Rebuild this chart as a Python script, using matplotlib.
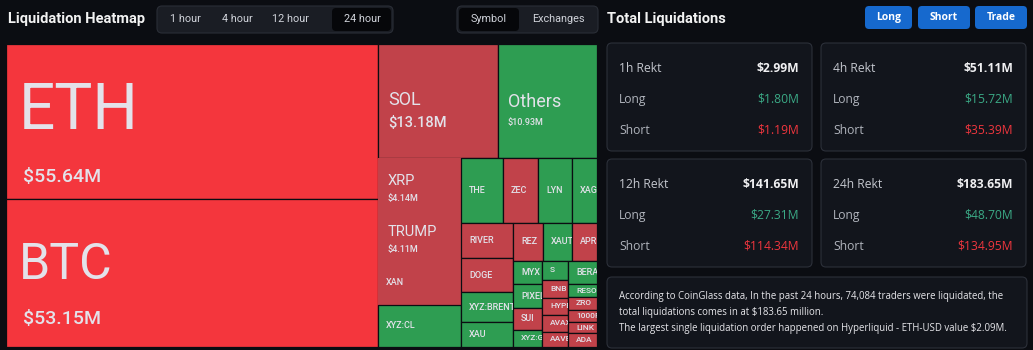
import matplotlib
matplotlib.use('Agg')
import matplotlib.pyplot as plt
from matplotlib.patches import Rectangle, FancyBboxPatch

# ---------------- data ----------------
symbols = ['ETH', 'BTC', 'SOL', 'Others', 'XRP', 'TRUMP', 'XAN', 'XYZ:CL',
           'THE', 'ZEC', 'LYN', 'XAG', 'RIVER', 'DOGE', 'XYZ:BRENT', 'XAU',
           'REZ', 'XAUT', 'APR', 'MYX', 'PIXEL', 'SUI', 'XYZ:GOLD',
           'S', 'BNB', 'HYPE', 'AVAX', 'AAVE',
           'BERA', 'RESOLV', 'ZRO', '1000PEPE', 'LINK', 'ADA']
values = [55.64, 53.15, 13.18, 10.93, 4.14, 4.11, 3.52, 3.37,
          2.62, 2.18, 2.12, 1.56, 1.80, 1.70, 1.50, 1.25,
          1.12, 1.08, 0.94, 0.65, 0.65, 0.62, 0.48,
          0.46, 0.46, 0.43, 0.43, 0.38,
          0.65, 0.34, 0.37, 0.34, 0.31, 0.39]
# 'S' = short-dominant (red), 'L' = long-dominant (green)
sides = ['S', 'S', 'S', 'L', 'S', 'S', 'S', 'L',
         'L', 'S', 'L', 'L', 'S', 'S', 'L', 'L',
         'S', 'L', 'S', 'L', 'L', 'S', 'L',
         'L', 'S', 'S', 'S', 'S',
         'L', 'L', 'S', 'S', 'S', 'S']
value_labels = {'ETH': '$55.64M', 'BTC': '$53.15M', 'SOL': '$13.18M',
                'Others': '$10.93M', 'XRP': '$4.14M', 'TRUMP': '$4.11M'}

periods = ['1h Rekt', '4h Rekt', '12h Rekt', '24h Rekt']
total_rekt = [2.99, 51.11, 141.65, 183.65]
long_rekt = [1.80, 15.72, 27.31, 48.70]
short_rekt = [1.19, 35.39, 114.34, 134.95]

time_tabs = ['1 hour', '4 hour', '12 hour', '24 hour']
view_tabs = ['Symbol', 'Exchanges']
buttons = ['Long', 'Short', 'Trade']
summary = ["According to CoinGlass data, In the past 24 hours, 74,084 traders were liquidated, the",
           "total liquidations comes in at $183.65 million.",
           "The largest single liquidation order happened on Hyperliquid - ETH-USD value $2.09M."]

# ---------------- style ----------------
BG = '#0B0D12'
CARD = '#12151C'
CARD_EDGE = '#2C3039'
RED_BIG = '#F4363D'
RED = '#C1424A'
GREEN = '#2E9D52'
TXT = '#E3E2EA'
VAL_GREEN = '#3BAA86'
VAL_RED = '#F0363E'

W, H = 1033, 350
fig = plt.figure(figsize=(W / 100, H / 100), dpi=100)
fig.patch.set_facecolor(BG)
ax = fig.add_axes([0, 0, 1, 1])
ax.set_xlim(0, W)
ax.set_ylim(H, 0)
ax.axis('off')
ax.set_facecolor(BG)

FONT = 'Roboto'
UI = 'Open Sans'

# ---------------- treemap ----------------
val = dict(zip(symbols, values))
side = dict(zip(symbols, sides))

tree = ('h', [('v', ['ETH', 'BTC']),
              ('v', [('h', ['SOL', 'Others']),
                     ('h', [('v', ['XRP', 'TRUMP', 'XAN', 'XYZ:CL']),
                            ('v', [('h', ['THE', 'ZEC', 'LYN', 'XAG']),
                                   ('h', [('v', ['RIVER', 'DOGE', 'XYZ:BRENT', 'XAU']),
                                          ('v', [('h', ['REZ', 'XAUT', 'APR']),
                                                 ('h', [('v', ['MYX', 'PIXEL', 'SUI', 'XYZ:GOLD']),
                                                        ('v', ['S', 'BNB', 'HYPE', 'AVAX', 'AAVE']),
                                                        ('v', ['BERA', 'RESOLV', 'ZRO', '1000PEPE', 'LINK', 'ADA'])])])])])])])])


def node_total(node):
    if isinstance(node, str):
        return val[node]
    return sum(node_total(c) for c in node[1])


def layout(node, x, y, w, h, out):
    if isinstance(node, str):
        out.append((node, x, y, w, h))
        return
    orient, children = node
    tot = node_total(node)
    pos = 0.0
    for c in children:
        frac = node_total(c) / tot
        if orient == 'h':
            layout(c, x + pos * w, y, frac * w, h, out)
        else:
            layout(c, x, y + pos * h, w, frac * h, out)
        pos += frac


cells = []
layout(tree, 6, 44, 591, 303, cells)

big = {'ETH': (46, 14), 'BTC': (36, 14), 'SOL': (13, 10.5),
       'Others': (13, 6.5), 'XRP': (10.5, 6.5), 'TRUMP': (10.5, 6.5)}
no_edge = {'XRP', 'TRUMP', 'XAN'}

for name, x, y, w, h in cells:
    if side[name] == 'S':
        col = RED_BIG if name in ('ETH', 'BTC') else RED
    else:
        col = GREEN
    rect = Rectangle((x, y), w, h, facecolor=col,
                     edgecolor='none' if name in no_edge else BG, lw=0.9)
    ax.add_patch(rect)
    if name in big:
        npt, vpt = big[name]
        npx = npt / 0.72
        vpx = vpt / 0.72
        gap = 0.62 * npx
        block = 0.72 * npx + gap + 0.72 * vpx
        cy = y + h / 2 + 0.07 * h
        base = cy - block / 2 + 0.72 * npx
        nx = x + (13 if npt > 30 else 10)
        vx = x + (17 if npt > 30 else 10)
        ax.text(nx, base, name, fontsize=npt, color=TXT, family=FONT,
                va='baseline', ha='left')
        ax.text(vx, base + gap, value_labels[name], fontsize=vpt, color=TXT,
                family=FONT, va='top', ha='left', fontweight='medium')
    else:
        fs = 6.5 if h > 20 else 6.0
        t = ax.text(x + 8, y + h / 2, name, fontsize=fs, color=TXT, family=FONT,
                    va='center', ha='left', fontweight='medium', clip_on=True)
        t.set_clip_path(rect)

# ---------------- header left ----------------
ax.text(8, 19.5, 'Liquidation Heatmap', fontsize=10.5, fontweight='bold',
        color='#F2F2F2', family=FONT, va='center', ha='left')
ax.add_patch(FancyBboxPatch((157, 6), 236, 27, boxstyle='round,pad=0,rounding_size=5',
                            facecolor='#1A1D24', edgecolor='#2A2E36', lw=0.8))
ax.add_patch(FancyBboxPatch((332, 8), 59, 23, boxstyle='round,pad=0,rounding_size=4',
                            facecolor='#06070A', edgecolor='none'))
for lab, cx in zip(time_tabs, [185, 237, 291, 362]):
    ax.text(cx, 19.5, lab, fontsize=7.8, color='#D0D3DA', family=FONT,
            va='center', ha='center')

ax.add_patch(FancyBboxPatch((457, 6), 141, 27, boxstyle='round,pad=0,rounding_size=5',
                            facecolor='#1A1D24', edgecolor='#2A2E36', lw=0.8))
ax.add_patch(FancyBboxPatch((459, 8), 60, 23, boxstyle='round,pad=0,rounding_size=4',
                            facecolor='#06070A', edgecolor='none'))
for lab, cx in zip(view_tabs, [489, 558]):
    ax.text(cx, 19.5, lab, fontsize=7.8, color='#D0D3DA', family=FONT,
            va='center', ha='center')

# ---------------- header right ----------------
ax.text(607, 19, 'Total Liquidations', fontsize=10.5, fontweight='bold',
        color='#F2F2F2', family=FONT, va='center', ha='left')
for lab, (bx, bw) in zip(buttons, [(865, 47), (918, 52), (975, 52)]):
    ax.add_patch(FancyBboxPatch((bx, 6), bw, 23, boxstyle='round,pad=0,rounding_size=4',
                                facecolor='#1669CE', edgecolor='none'))
    ax.text(bx + bw / 2, 17.5, lab, fontsize=7.5, fontweight='bold', color='white',
            family=UI, va='center', ha='center')

# ---------------- cards ----------------
card_pos = [(607, 43), (821, 43), (607, 159), (821, 159)]
for (cx, cy), per, tot, lg, sh in zip(card_pos, periods, total_rekt, long_rekt, short_rekt):
    ax.add_patch(FancyBboxPatch((cx, cy), 205, 108, boxstyle='round,pad=0,rounding_size=5',
                                facecolor=CARD, edgecolor=CARD_EDGE, lw=0.8))
    rows = [(per, f'${tot:.2f}M', '#F0F0F2', '#C4C7CE'),
            ('Long', f'${lg:.2f}M', VAL_GREEN, '#B0B4BC'),
            ('Short', f'${sh:.2f}M', VAL_RED, '#B0B4BC')]
    for i, (lab, v, vc, lc) in enumerate(rows):
        yy = cy + 25 + i * 31
        ax.text(cx + 12, yy, lab, fontsize=8.7, color=lc, family=UI,
                va='center', ha='left', fontweight='medium' if i == 0 else 'normal')
        ax.text(cx + 192, yy, v, fontsize=8.7, color=vc, family=UI,
                va='center', ha='right', fontweight='bold' if i == 0 else 'medium')

ax.add_patch(FancyBboxPatch((607, 277), 420, 71, boxstyle='round,pad=0,rounding_size=5',
                            facecolor=CARD, edgecolor=CARD_EDGE, lw=0.8))
for i, line in enumerate(summary):
    ax.text(619, 297 + i * 15.5, line, fontsize=6.9, color='#E6E6EA', family=UI,
            va='center', ha='left')

fig.savefig('out.png', dpi=100, facecolor=BG)
